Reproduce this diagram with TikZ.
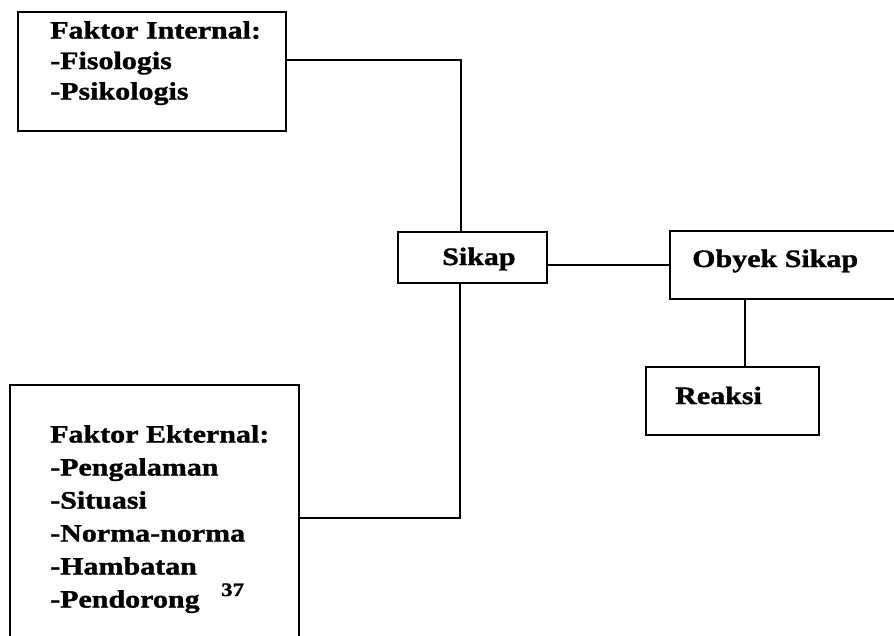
\documentclass[tikz,border=0pt]{standalone}
\usepackage{fontspec}
\setmainfont{Liberation Serif}[FakeStretch=1.2,BoldFeatures={FakeBold=1.3}]
\begin{document}
\begin{tikzpicture}[x=1pt,y=-1pt,
  box/.style={draw,line width=1.8pt,inner sep=0pt},
  lbl/.style={font=\bfseries\fontsize{25}{30.5}\selectfont,align=left,inner sep=0pt,anchor=base west},
  link/.style={line width=1.8pt}]
\useasboundingbox (0,0) rectangle (894,635);
\clip (0,0) rectangle (894,635);
% boxes
\node[box,minimum width=268,minimum height=119] (int) at (152,71.5) {};
\node[box,minimum width=289,minimum height=266] (ext) at (154.5,518) {};
\node[box,minimum width=149,minimum height=51] (sikap) at (472.5,257.5) {};
\node[box,minimum width=250,minimum height=68] (obyek) at (795,265) {};
\node[box,minimum width=173,minimum height=68] (reaksi) at (732.5,401) {};
% texts
\node[lbl,anchor=north west] (intlbl) at (50,21) {Faktor Internal:\\-Fisologis\\-Psikologis};
\node[lbl,anchor=north west,font=\bfseries\fontsize{25}{33}\selectfont] (extlbl) at (50,425)
  {Faktor Ekternal:\\-Pengalaman\\-Situasi\\-Norma-norma\\-Hambatan\\-Pendorong};
\node[lbl] (sikaplbl) at (442,265) {Sikap};
\node[lbl] (obyeklbl) at (692,267) {Obyek Sikap};
\node[lbl] (reaksilbl) at (675,404) {Reaksi};
\node[lbl,font=\bfseries\fontsize{19}{22}\selectfont] (page) at (221,596) {37};
% connectors
\draw[link] ([yshift=11.5]int.east) -| ([xshift=-11.5]sikap.north);
\draw[link] ([xshift=-12.5]sikap.south) |- (ext.east);
\draw[link] (obyek.west) -- (obyek.west -| sikap.east);
\draw[link] ([xshift=12.5]reaksi.north) -- ([xshift=12.5]reaksi.north |- obyek.south);
\end{tikzpicture}
\end{document}
